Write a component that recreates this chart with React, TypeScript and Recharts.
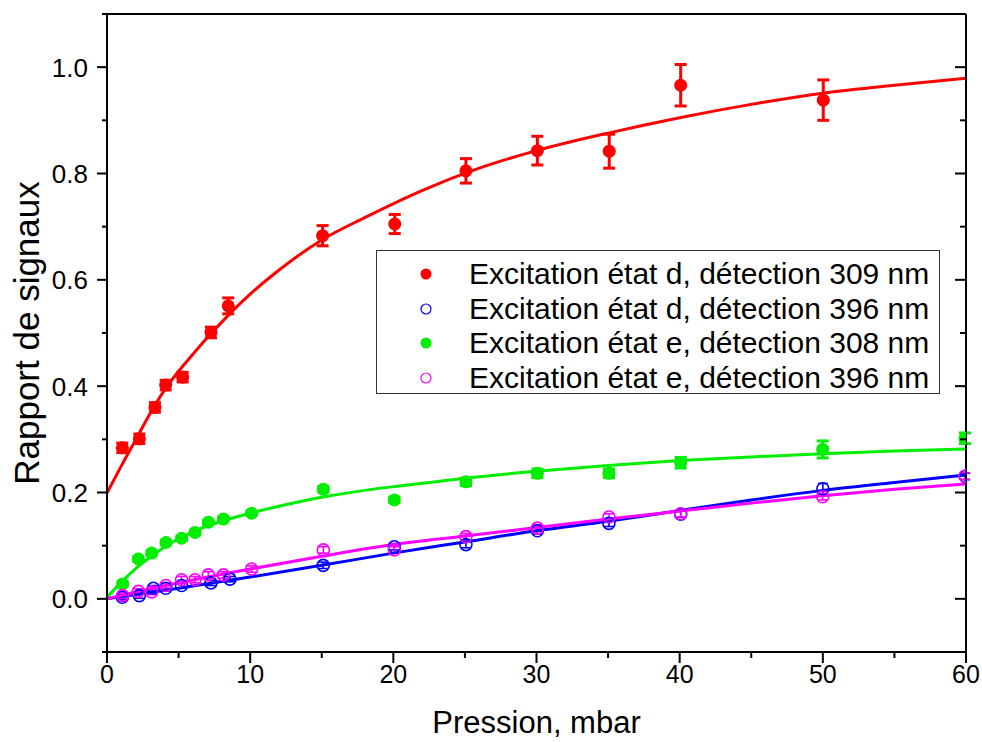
import {
  ComposedChart,
  Line,
  Scatter,
  XAxis,
  YAxis,
  ErrorBar,
  Legend,
} from "recharts";

const FONT = "'Liberation Sans', Arial, Helvetica, sans-serif";

const seriesNames = [
  "Excitation état d, détection 309 nm",
  "Excitation état d, détection 396 nm",
  "Excitation état e, détection 308 nm",
  "Excitation état e, détection 396 nm",
];
const seriesColors = ["#ff0000", "#0000ff", "#00ee00", "#ff00ff"];
const seriesFilled = [true, false, true, false];

const xTicks = [0, 5, 10, 15, 20, 25, 30, 35, 40, 45, 50, 55, 60];
const yTicks = [-0.1, 0, 0.1, 0.2, 0.3, 0.4, 0.5, 0.6, 0.7, 0.8, 0.9, 1.0, 1.1];

// excitation d, 309 nm
const redX = [1.07, 2.26, 3.35, 4.1, 5.28, 7.26, 8.47, 15.06, 20.1, 25.07, 30.06, 35.08, 40.07, 50.03];
const redY = [0.284, 0.301, 0.36, 0.402, 0.417, 0.501, 0.551, 0.683, 0.705, 0.805, 0.843, 0.842, 0.966, 0.938];
const redErr = [0.009, 0.009, 0.009, 0.009, 0.009, 0.01, 0.015, 0.019, 0.018, 0.023, 0.027, 0.032, 0.039, 0.038];

// excitation d, 396 nm
const blueX = [1.07, 2.26, 3.24, 4.1, 5.21, 7.26, 8.59, 15.1, 20.07, 25.07, 30.06, 35.06, 40.07, 50.0, 59.95];
const blueY = [0.003, 0.006, 0.02, 0.02, 0.025, 0.03, 0.037, 0.063, 0.098, 0.102, 0.128, 0.142, 0.159, 0.207, 0.23];
const blueErr = [0.005, 0.005, 0.005, 0.005, 0.005, 0.005, 0.005, 0.006, 0.006, 0.006, 0.006, 0.006, 0.006, 0.01, 0.006];

// excitation e, 308 nm
const greenX = [1.09, 2.19, 3.12, 4.12, 5.21, 6.15, 7.08, 8.13, 10.1, 15.11, 20.07, 25.07, 30.06, 35.06, 40.07, 49.99, 59.93];
const greenY = [0.028, 0.075, 0.086, 0.106, 0.114, 0.125, 0.144, 0.15, 0.161, 0.206, 0.186, 0.22, 0.236, 0.236, 0.256, 0.281, 0.302];
const greenErr = [0.004, 0.004, 0.004, 0.004, 0.004, 0.004, 0.004, 0.004, 0.004, 0.005, 0.005, 0.007, 0.008, 0.008, 0.01, 0.016, 0.01];

// excitation e, 396 nm
const pinkX = [1.09, 2.19, 3.12, 4.12, 5.21, 6.15, 7.08, 8.13, 10.1, 15.11, 20.07, 25.07, 30.06, 35.06, 40.07, 49.99, 59.93];
const pinkY = [0.006, 0.014, 0.013, 0.025, 0.036, 0.036, 0.045, 0.045, 0.056, 0.092, 0.092, 0.117, 0.133, 0.154, 0.16, 0.192, 0.231];
const pinkErr = [0.005, 0.005, 0.005, 0.005, 0.006, 0.006, 0.006, 0.006, 0.006, 0.006, 0.006, 0.006, 0.006, 0.006, 0.006, 0.006, 0.006];

// fitted curves
const redFitX = [0, 1, 2, 3, 4, 5, 6, 7, 8, 10, 12, 15, 18, 22, 26, 30, 35, 40, 45, 50, 55, 60];
const redFitY = [0.199, 0.25, 0.299, 0.348, 0.392, 0.428, 0.46, 0.491, 0.52, 0.573, 0.618, 0.675, 0.717, 0.768, 0.81, 0.843, 0.876, 0.905, 0.93, 0.951, 0.966, 0.979];

const blueFitX = [0, 5, 10, 15, 20, 25, 30, 35, 40, 45, 50, 55, 60];
const blueFitY = [0.0, 0.02, 0.041, 0.063, 0.086, 0.107, 0.128, 0.146, 0.166, 0.186, 0.204, 0.219, 0.233];

const greenFitX = [0, 1, 2, 3, 4, 5, 6, 7, 8, 10, 12, 15, 18, 21, 25, 30, 35, 40, 45, 50, 55, 60];
const greenFitY = [0.003, 0.031, 0.057, 0.078, 0.097, 0.113, 0.126, 0.137, 0.146, 0.161, 0.174, 0.191, 0.204, 0.214, 0.227, 0.24, 0.251, 0.26, 0.267, 0.273, 0.278, 0.282];

const pinkFitX = [0, 2, 5, 10, 15, 20, 25, 30, 35, 40, 45, 50, 55, 60];
const pinkFitY = [0.0, 0.013, 0.03, 0.056, 0.08, 0.102, 0.118, 0.134, 0.15, 0.165, 0.18, 0.194, 0.206, 0.216];

const toPoints = (xs: number[], ys: number[], errs: number[]) =>
  xs.map((x, i) => ({ x, y: ys[i], err: errs[i] }));
const toCurve = (xs: number[], ys: number[]) => xs.map((x, i) => ({ x, y: ys[i] }));

const pointSets = [
  toPoints(redX, redY, redErr),
  toPoints(blueX, blueY, blueErr),
  toPoints(greenX, greenY, greenErr),
  toPoints(pinkX, pinkY, pinkErr),
];
const fitSets = [
  toCurve(redFitX, redFitY),
  toCurve(blueFitX, blueFitY),
  toCurve(greenFitX, greenFitY),
  toCurve(pinkFitX, pinkFitY),
];

const isMajorX = (v: number) => v % 10 === 0;
const isMajorY = (v: number) => Math.round(v * 10) % 2 === 0;

const BottomTick = ({ x, y, payload }: any) => {
  const v = payload.value;
  const major = isMajorX(v);
  return (
    <g>
      <line x1={x} x2={x} y1={y - 1} y2={y + (major ? 11 : 6)} stroke="#000" strokeWidth={2} />
      {major && (
        <text x={x} y={y + 31} textAnchor="middle" fontSize={25} fontFamily={FONT} fill="#000">
          {v}
        </text>
      )}
    </g>
  );
};

const TopTick = ({ x, y, payload }: any) => {
  const major = isMajorX(payload.value);
  return <line x1={x} x2={x} y1={y} y2={y + (major ? 10 : 5)} stroke="#000" strokeWidth={2} />;
};

const LeftTick = ({ x, y, payload }: any) => {
  const v = payload.value;
  const major = isMajorY(v);
  const showLabel = major && v >= 0 && v <= 1.0001;
  return (
    <g>
      <line x1={x - (major ? 10 : 5)} x2={x} y1={y} y2={y} stroke="#000" strokeWidth={2} />
      {showLabel && (
        <text x={x - 19} y={y} dy="0.36em" textAnchor="end" fontSize={26} fontFamily={FONT} fill="#000">
          {v.toFixed(1)}
        </text>
      )}
    </g>
  );
};

const RightTick = ({ x, y, payload }: any) => {
  const major = isMajorY(payload.value);
  return <line x1={x - (major ? 11 : 6)} x2={x} y1={y} y2={y} stroke="#000" strokeWidth={2} />;
};

const XTitle = ({ viewBox }: any) => (
  <text
    x={viewBox.x + viewBox.width / 2}
    y={viewBox.y + 81}
    textAnchor="middle"
    fontSize={31}
    fontFamily={FONT}
    fill="#000"
  >
    Pression, mbar
  </text>
);

const YTitle = ({ viewBox }: any) => (
  <text
    transform={`translate(${viewBox.x + viewBox.width - 68}, ${viewBox.y + viewBox.height / 2}) rotate(-90)`}
    textAnchor="middle"
    fontSize={35}
    fontFamily={FONT}
    fill="#000"
  >
    Rapport de signaux
  </text>
);

const makeDot = (color: string, filled: boolean) => (p: any) =>
  filled ? (
    <circle cx={p.cx} cy={p.cy} r={6.5} fill={color} />
  ) : (
    <circle cx={p.cx} cy={p.cy} r={6} fill="none" stroke={color} strokeWidth={1.6} />
  );

const LegendBox = () => (
  <div
    style={{
      width: 564,
      height: 144,
      boxSizing: "border-box",
      border: "1.5px solid #333",
      background: "#fff",
      paddingTop: 6,
      fontFamily: FONT,
    }}
  >
    {seriesNames.map((name, i) => (
      <div key={name} style={{ display: "flex", alignItems: "center", height: 34.6 }}>
        <svg width={92} height={20} style={{ flex: "none" }}>
          {seriesFilled[i] ? (
            <circle cx={49} cy={10} r={5.5} fill={seriesColors[i]} />
          ) : (
            <circle cx={49} cy={10} r={5} fill="#fff" stroke={seriesColors[i]} strokeWidth={1.2} />
          )}
        </svg>
        <span style={{ fontSize: 30, color: "#000", whiteSpace: "nowrap", lineHeight: "34px" }}>{name}</span>
      </div>
    ))}
  </div>
);

const axisLine = { stroke: "#000", strokeWidth: 2 };

export default function App() {
  return (
    <div style={{ position: "absolute", left: 0, top: 0, background: "#fff" }}>
      <ComposedChart width={982} height={742} margin={{ top: 10, right: 12, bottom: 50, left: 47 }}>
        <XAxis
          dataKey="x"
          type="number"
          domain={[0, 60]}
          ticks={xTicks}
          interval={0}
          height={40}
          tickSize={0}
          tickMargin={0}
          tickLine={false}
          axisLine={axisLine}
          tick={<BottomTick />}
          label={<XTitle />}
          allowDataOverflow
        />
        <XAxis
          xAxisId="top"
          orientation="top"
          type="number"
          domain={[0, 60]}
          ticks={xTicks}
          interval={0}
          height={4}
          tickSize={0}
          tickMargin={0}
          tickLine={false}
          axisLine={axisLine}
          tick={<TopTick />}
          allowDataOverflow
        />
        <YAxis
          dataKey="y"
          type="number"
          domain={[-0.1, 1.1]}
          ticks={yTicks}
          interval={0}
          width={60}
          tickSize={0}
          tickMargin={0}
          tickLine={false}
          axisLine={axisLine}
          tick={<LeftTick />}
          label={<YTitle />}
          allowDataOverflow
        />
        <YAxis
          yAxisId="right"
          orientation="right"
          type="number"
          domain={[-0.1, 1.1]}
          ticks={yTicks}
          interval={0}
          width={4}
          tickSize={0}
          tickMargin={0}
          tickLine={false}
          axisLine={axisLine}
          tick={<RightTick />}
          allowDataOverflow
        />
        {pointSets.map((pts, i) => (
          <Scatter
            key={`pts-${i}`}
            name={seriesNames[i]}
            data={pts}
            fill={seriesColors[i]}
            shape={makeDot(seriesColors[i], seriesFilled[i])}
            isAnimationActive={false}
          >
            <ErrorBar
              dataKey="err"
              direction="y"
              width={seriesFilled[i] ? 6 : 5}
              stroke={seriesColors[i]}
              strokeWidth={seriesFilled[i] ? 3 : 1.6}
            />
          </Scatter>
        ))}
        {fitSets.map((curve, i) => (
          <Line
            key={`fit-${i}`}
            data={curve}
            dataKey="y"
            type="monotone"
            stroke={seriesColors[i]}
            strokeWidth={3}
            dot={false}
            activeDot={false}
            legendType="none"
            isAnimationActive={false}
          />
        ))}
        <Legend
          layout="horizontal"
          verticalAlign="middle"
          align="center"
          content={<LegendBox />}
          wrapperStyle={{ position: "absolute", left: 376, top: 250, width: 564, height: 144 }}
        />
      </ComposedChart>
    </div>
  );
}
